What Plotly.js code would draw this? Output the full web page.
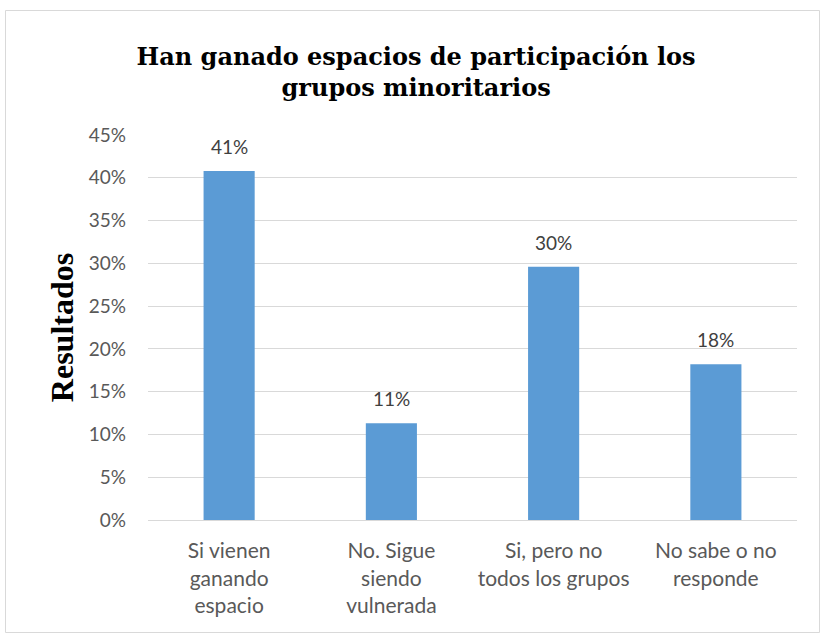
<!DOCTYPE html>
<html>
<head>
<meta charset="utf-8">
<script src="https://cdn.plot.ly/plotly-3.0.1.min.js"></script>
<style>
html,body{margin:0;padding:0;background:#fff;}
#chart{width:824px;height:637px;}
</style>
</head>
<body>
<div id="chart"></div>
<script>
const categories = [
  "Si vienen<br>ganando<br>espacio",
  "No. Sigue<br>siendo<br>vulnerada",
  "Si, pero no<br>todos los grupos",
  "No sabe o no<br>responde"
];
const values = [0.408, 0.113, 0.296, 0.182];
const yTickVals = [0, 0.05, 0.10, 0.15, 0.20, 0.25, 0.30, 0.35, 0.40, 0.45];
const yTickText = ["0%", "5%", "10%", "15%", "20%", "25%", "30%", "35%", "40%", "45%"];
const titleText = "Han ganado espacios de participación los<br>grupos minoritarios";
const yTitle = "Resultados";

const W = 824, H = 637;
const m = {l: 148, r: 27, t: 135, b: 117};
const pw = W - m.l - m.r, ph = H - m.t - m.b;
function px(x){ return (x - m.l) / pw; }
function py(y){ return (H - m.b - y) / ph; }

const sans = "Lato, 'Open Sans', sans-serif";

const trace = {
  type: "bar",
  x: categories,
  y: values,
  width: 0.315,
  marker: {color: "#5b9bd5"},
  hoverinfo: "none"
};

const annotations = values.map((v, i) => ({
  x: categories[i],
  y: v,
  xref: "x",
  yref: "y",
  text: Math.round(v * 100) + "%",
  showarrow: false,
  yanchor: "bottom",
  yshift: 11,
  font: {family: sans, size: 19, color: "#404040"}
}));

const layout = {
  width: W,
  height: H,
  margin: m,
  paper_bgcolor: "#ffffff",
  plot_bgcolor: "#ffffff",
  showlegend: false,
  title: {
    text: titleText,
    font: {family: "'DejaVu Serif', 'Liberation Serif', serif", size: 24, color: "#000000", weight: "bold"},
    x: 0.505,
    xanchor: "center",
    y: 1 - 65 / H,
    yanchor: "middle"
  },
  xaxis: {
    type: "category",
    tickfont: {family: sans, size: 21, color: "#595959"},
    ticklabelstandoff: 12,
    showline: true,
    linecolor: "#d9d9d9",
    linewidth: 1,
    ticks: "",
    showgrid: false,
    fixedrange: true
  },
  yaxis: {
    range: [0, 0.45],
    tickvals: yTickVals,
    ticktext: yTickText,
    tickfont: {family: sans, size: 19, color: "#595959"},
    ticklabelstandoff: 21,
    showgrid: true,
    gridcolor: "#d9d9d9",
    gridwidth: 1,
    zeroline: false,
    ticks: "",
    ticklen: 0,
    title: {
      text: yTitle,
      font: {family: "'Liberation Serif', 'Times New Roman', serif", size: 32, color: "#000000", weight: "bold"},
      standoff: 5
    },
    fixedrange: true
  },
  annotations: annotations,
  shapes: [{
    type: "rect",
    xref: "paper", yref: "paper",
    x0: px(5.5), x1: px(819.5),
    y0: py(10.5), y1: py(632.5),
    line: {color: "#d9d9d9", width: 1},
    fillcolor: "rgba(0,0,0,0)",
    layer: "below"
  }]
};

Plotly.newPlot("chart", [trace], layout, {displayModeBar: false, staticPlot: true});
</script>
</body>
</html>
